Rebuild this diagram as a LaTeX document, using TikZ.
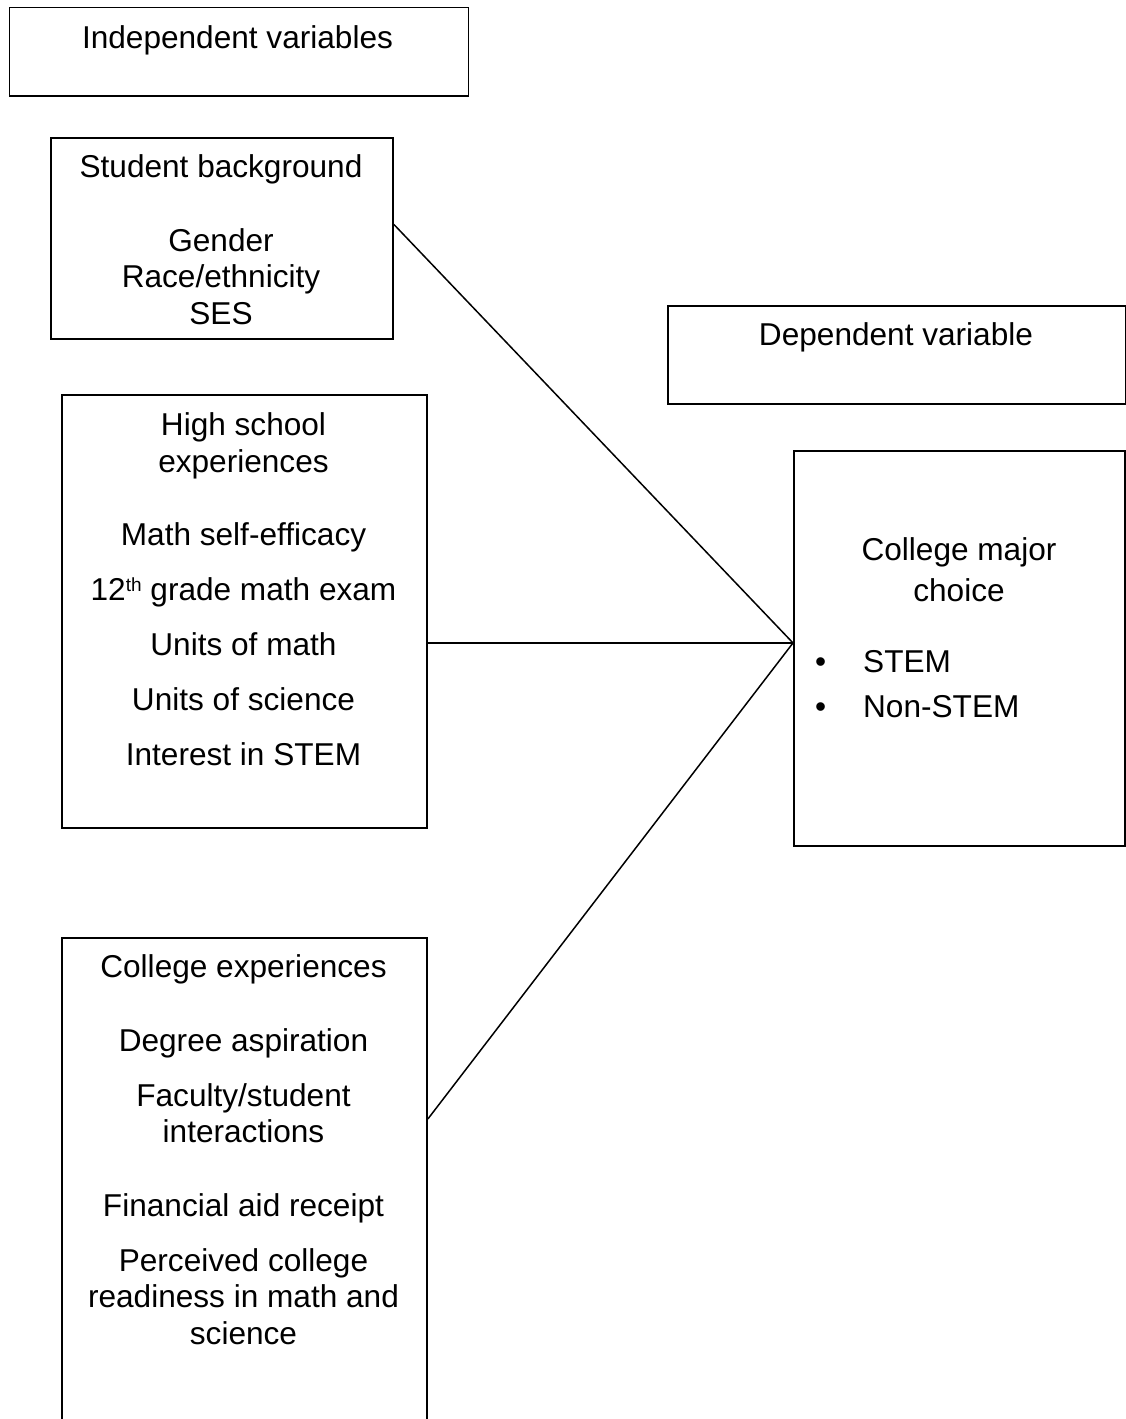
\documentclass[tikz,border=0pt]{standalone}
\usepackage{fontspec}
\setmainfont{Liberation Sans}
\usepackage{tikz}
\usetikzlibrary{positioning}

\begin{document}
\begin{tikzpicture}[x = 1pt, y = -1pt,
		varbox/.style = {draw, line width = 1.9pt, inner sep = 0pt, anchor = north west},
		boxtext/.style = {font = \fontsize{31.6}{36.5}\selectfont, align = center, inner sep = 0pt, anchor = north, execute at begin node = \strut},
		link/.style = {line width = 1.5pt}]
	\def\gap{18.5pt};
	\def\blank{37pt};
	\def\up{22.5};

	\useasboundingbox (0,0) rectangle (1126,1419);

	% the boxes
	\begin{scope}
		\node [varbox, minimum width = 459pt, minimum height = 88.5pt] (indep) at (8.5,6.5) {};
		\node [varbox, minimum width = 342pt, minimum height = 201pt] (background) at (50,137) {};
		\node [varbox, minimum width = 458pt, minimum height = 98pt] (dep) at (667,305) {};
		\node [varbox, minimum width = 365pt, minimum height = 433pt] (highschool) at (61,394) {};
		\node [varbox, minimum width = 331pt, minimum height = 395pt] (major) at (793,450) {};
		\node [varbox, minimum width = 365pt, minimum height = 485pt] (college) at (61,937) {};
	\end{scope}

	% the texts (y is the baseline of the first line)
	\begin{scope}
		\node [boxtext] (indeplabel) at (237.5,45 - \up) {Independent variables};
		\node [boxtext] (backgroundlabel) at (221,177 - \up) {Student background\\[\blank]Gender\\Race/ethnicity\\SES};
		\node [boxtext] (deplabel) at (896,342.5 - \up) {Dependent variable};
		\node [boxtext] (highschoollabel) at (243.5,435 - \up) {High school\\experiences\\[\blank]Math self-efficacy\\[\gap]12{\raisebox{9pt}{\fontsize{19}{20}\selectfont th}} grade math exam\\[\gap]Units of math\\[\gap]Units of science\\[\gap]Interest in STEM};
		\node [boxtext] (collegelabel) at (243.5,977 - \up) {College experiences\\[\blank]Degree aspiration\\[\gap]Faculty/student\\interactions\\[\blank]Financial aid receipt\\[\gap]Perceived college\\readiness in math and\\science};
		\node [boxtext] (majorlabel) at (959,560 - \up) {College major\\[4.5pt]choice};
		\node [boxtext, align = left, anchor = north west] (majorlist) at (815,673 - \up) {\makebox[48pt][l]{\textbullet}STEM\\[8.5pt]\makebox[48pt][l]{\textbullet}Non-STEM};
	\end{scope}

	% the links
	\coordinate (meet) at ([yshift = 5.5pt]major.west);
	\draw [link] ([yshift = 14pt]background.east) -- (meet);
	\draw [link] ([yshift = -31.5pt]highschool.east) -- (meet);
	\draw [link] ([yshift = 61.5pt]college.east) -- (meet);
\end{tikzpicture}
\end{document}
